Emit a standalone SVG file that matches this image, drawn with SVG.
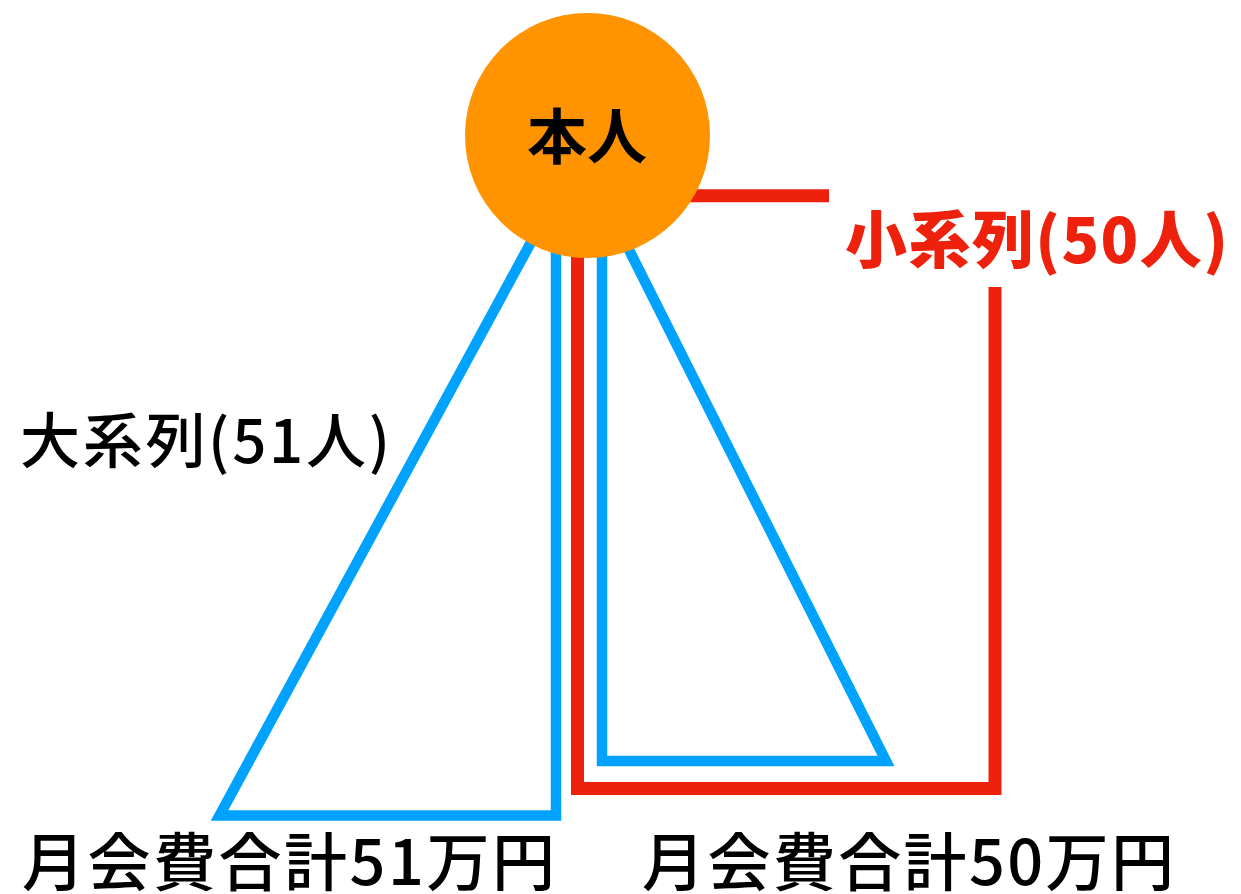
<svg xmlns="http://www.w3.org/2000/svg" width="1241" height="894" viewBox="0 0 1241 894">
  <style>
    .blue { fill: none; stroke: #00A2FF; stroke-width: 10.5; stroke-linejoin: miter; stroke-miterlimit: 10; }
    .red { fill: none; stroke: #EE220C; stroke-width: 13; stroke-linejoin: miter; }
    .t { font-family: "Noto Sans CJK JP", "Noto Sans", sans-serif; fill: #000; }
  </style>
  <rect width="1241" height="894" fill="#fff"/>
  <g id="connectors">
    <polyline class="blue" points="536.6,232 219.5,815.5 556,815.5 556,240"/>
    <polyline class="blue" points="602,240 602,761 886,761 620,232"/>
    <path class="red" d="M660 195.7 H829"/>
    <path class="red" d="M995 287 V788.5 H577.5 V240"/>
  </g>
  <g id="node-self">
    <circle cx="587.5" cy="135.5" r="122.5" fill="#FF9300"/>
    <text class="t" x="587" y="159" font-size="60" font-weight="700" text-anchor="middle">本人</text>
  </g>
  <g id="label-small">
    <text class="t" x="845" y="263" font-size="62" font-weight="900" style="fill:#EE220C" textLength="383">小系列(50人)</text>
  </g>
  <g id="label-large">
    <text class="t" x="20" y="463" font-size="60" font-weight="500" textLength="370">大系列(51人)</text>
  </g>
  <g id="label-total-51">
    <text class="t" x="22" y="885" font-size="63" font-weight="500" textLength="533">月会費合計51万円</text>
  </g>
  <g id="label-total-50">
    <text class="t" x="642" y="885" font-size="63" font-weight="500" textLength="532">月会費合計50万円</text>
  </g>
</svg>
